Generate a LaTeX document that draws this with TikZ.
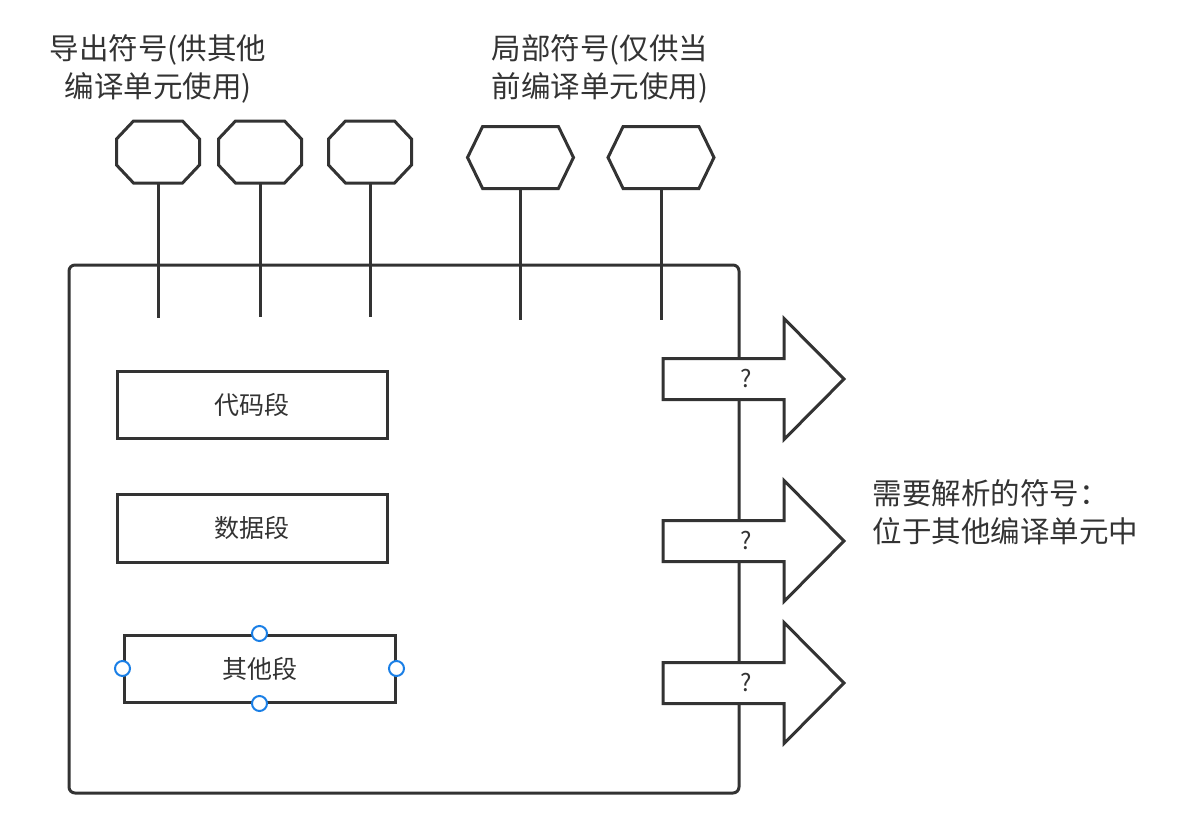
\documentclass[tikz,border=0pt]{standalone}
\usepackage{fontspec}
\setmainfont{Noto Sans CJK SC}
\usetikzlibrary{shapes.symbols}

\definecolor{inkgray}{HTML}{333333}
\definecolor{selblue}{HTML}{1A7FE6}

\tikzset{
	symline/.style={draw=inkgray, line width=3pt},
	expsym/.style={minimum width=83pt, minimum height=62pt, inner sep=0pt},
	locsym/.style={symline, signal, signal to=east and west, signal pointer angle=128, minimum width=106pt, minimum height=62pt, inner sep=0pt},
	segbox/.style={symline, minimum width=270pt, minimum height=67pt, font=\fontsize{25}{30}\selectfont, text=inkgray},
	handle/.style={circle, draw=selblue, fill=white, line width=2pt, minimum size=15pt, inner sep=0pt},
	lbl/.style={font=\fontsize{29.5}{38}\selectfont, text=inkgray, align=center},
}
\newcommand{\octa}{\draw[symline] (-24.5,-31) -- (24.5,-31) -- (41.5,-13) -- (41.5,13) -- (24.5,31) -- (-24.5,31) -- (-41.5,13) -- (-41.5,-13) -- cycle;}

\begin{document}
\begin{tikzpicture}[x=1pt, y=-1pt]
	\useasboundingbox (0,0) rectangle (1178,833);
	% the compilation unit
	\node[symline, rounded corners=6pt, minimum width=670pt, minimum height=528pt] (unit) at (404,529) {};
	% exported symbols
	\node[expsym] (exp1) at (158,152) {};
	\node[expsym] (exp2) at (260,152) {};
	\node[expsym] (exp3) at (370,152) {};
	\begin{scope}[shift={(exp1)}] \octa \end{scope}
	\begin{scope}[shift={(exp2)}] \octa \end{scope}
	\begin{scope}[shift={(exp3)}] \octa \end{scope}
	\coordinate (e1) at (158,318);
	\coordinate (e2) at (260,317);
	\coordinate (e3) at (370,317);
	\draw[symline] (exp1.south) -- (e1);
	\draw[symline] (exp2.south) -- (e2);
	\draw[symline] (exp3.south) -- (e3);
	% local symbols
	\node[locsym] (loc1) at (520.5,157.5) {};
	\node[locsym] (loc2) at (661,157.5) {};
	\coordinate (l1) at (520.5,320);
	\coordinate (l2) at (661,320);
	\draw[symline] (loc1.south) -- (l1);
	\draw[symline] (loc2.south) -- (l2);
	% segments
	\node[segbox] (code) at (252,404.5) {代码段};
	\node[segbox, minimum height=68pt] (data) at (252,528) {数据段};
	\node[segbox, minimum width=271pt] (other) at (259.5,668.5) {其他段};
	\node[handle] (h1) at (other.north) {};
	\node[handle] (h2) at (other.south) {};
	\node[handle] (h3) at (other.west) {};
	\node[handle] (h4) at (other.east) {};
	% unresolved symbols
	\draw[symline, fill=white] (663,358.5) -- (784,358.5) -- (784,318.5) -- (844,379) -- (784,439.5) -- (784,399.5) -- (663,399.5) -- cycle;
	\node[text=inkgray, font=\fontsize{24}{28}\selectfont] (q1) at (746,379) {?};
	\begin{scope}[shift={(0,162)}]
	\draw[symline, fill=white] (663,358.5) -- (784,358.5) -- (784,318.5) -- (844,379) -- (784,439.5) -- (784,399.5) -- (663,399.5) -- cycle;
	\node[text=inkgray, font=\fontsize{24}{28}\selectfont] (q2) at (746,379) {?};
	\end{scope}
	\begin{scope}[shift={(0,304)}]
	\draw[symline, fill=white] (663,358.5) -- (784,358.5) -- (784,318.5) -- (844,379) -- (784,439.5) -- (784,399.5) -- (663,399.5) -- cycle;
	\node[text=inkgray, font=\fontsize{24}{28}\selectfont] (q3) at (746,379) {?};
	\end{scope}
	% labels
	\node[lbl] (explbl) at (158,69) {导出符号(供其他\\编译单元使用)};
	\node[lbl] (loclbl) at (600,69) {局部符号(仅供当\\前编译单元使用)};
	\node[lbl, align=left, anchor=west] (extlbl) at (869,512) {需要解析的符号：\\位于其他编译单元中};
\end{tikzpicture}
\end{document}
